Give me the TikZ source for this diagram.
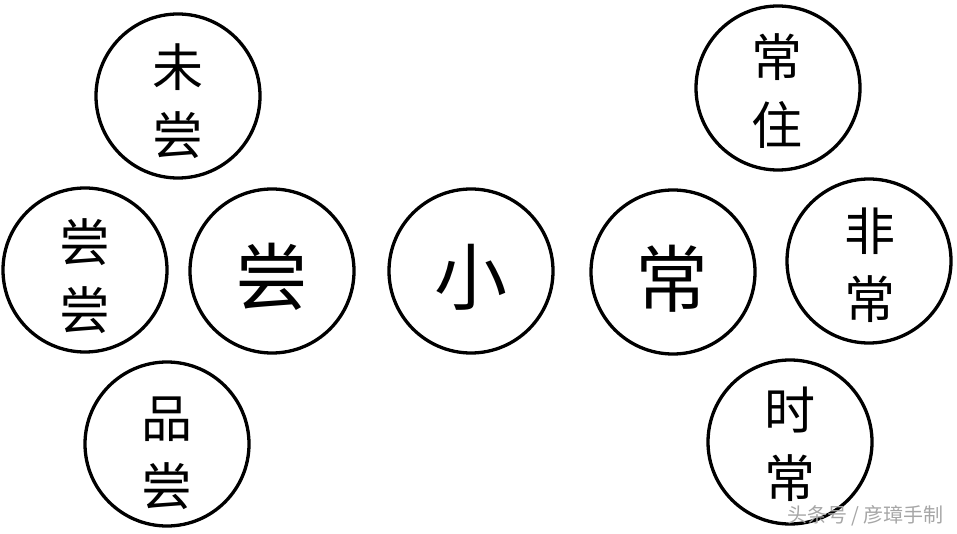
\documentclass[tikz,border=0pt]{standalone}
\usepackage{fontspec}
\newfontfamily\cjk{Noto Sans CJK SC}
\tikzset{
  ring/.style={circle,draw=black,line width=3.3pt,minimum size=164pt,inner sep=0pt},
  pair/.style={font=\cjk\fontsize{51}{68}\selectfont,align=center,inner sep=0pt},
  big/.style={font=\cjk\fontsize{73}{73}\selectfont,inner sep=0pt},
  wmtext/.style={font=\cjk\fontsize{20}{20}\selectfont,text=black!35,inner sep=0pt}
}
\begin{document}
\begin{tikzpicture}[x=1pt,y=-1pt]
\useasboundingbox (0,0) rectangle (957,534);
\node[ring] (wc) at (178,96) {};
\node[ring] (cc) at (85,270) {};
\node[ring] (c)  at (272,271) {};
\node[ring] (pc) at (167,444) {};
\node[ring] (x)  at (471,271) {};
\node[ring] (ch) at (673,272) {};
\node[ring] (cz) at (778,88) {};
\node[ring] (fc) at (869,261) {};
\node[ring] (sc) at (790,442) {};
\node[pair] (twc) at (178,101) {未\\尝};
\node[pair] (tcc) at (85,276) {尝\\尝};
\node[pair] (tpc) at (167,453) {品\\尝};
\node[pair] (tcz) at (777,91) {常\\住};
\node[pair] (tfc) at (870,265) {非\\常};
\node[pair] (tsc) at (790,444) {时\\常};
\node[big] (tc) at (272,277) {尝};
\node[big] (tx) at (471,277) {小};
\node[big] (tch) at (672,279) {常};
\node[wmtext,anchor=east] (wm) at (944,516) {头条号 / 彦璋手制};
\end{tikzpicture}
\end{document}
